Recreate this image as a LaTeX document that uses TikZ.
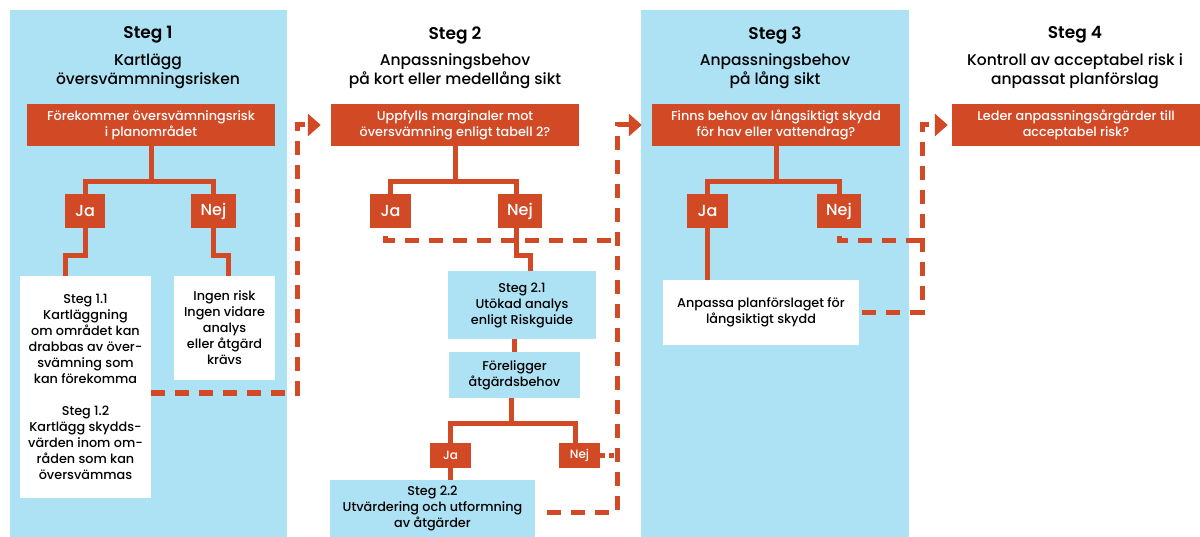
\documentclass[tikz,border=0pt]{standalone}
\usepackage{fontspec}
\IfFontExistsTF{Poppins Medium}
  {\setmainfont{Poppins Medium}[BoldFont={Poppins SemiBold}]}
  {\setmainfont{Poppins}}
\usetikzlibrary{arrows.meta}
\definecolor{sky}{RGB}{173, 226, 244}
\definecolor{rust}{RGB}{210, 73, 37}

\begin{document}
\begin{tikzpicture}[x=1pt, y=-1pt,
    question/.style={fill=rust, text=white, align=center, minimum width=248pt,
      minimum height=42pt, inner sep=0pt, font=\fontsize{12.8}{16}\selectfont},
    answer/.style={fill=rust, text=white, minimum height=34pt, inner sep=0pt,
      font=\fontsize{16}{18}\selectfont},
    small answer/.style={answer, minimum height=25pt, minimum width=41pt,
      font=\fontsize{12}{14}\selectfont},
    whitebox/.style={fill=white, align=center, inner sep=0pt,
      font=\fontsize{12.8}{16}\selectfont},
    bluebox/.style={whitebox, fill=sky},
    tree/.style={rust, line width=5pt},
    dashline/.style={rust, line width=5pt, dash pattern=on 14pt off 10pt},
    goto/.style={dashline, -{Triangle[width=22pt, length=13pt]}, shorten >=10pt},
    title/.style={font=\fontsize{17}{20}\selectfont\bfseries},
    subtitle/.style={align=center, font=\fontsize{15.5}{19}\selectfont}]
  \useasboundingbox (0, 0) rectangle (1200, 537);

  % backgrounds of steg 1 and steg 3
  \fill[sky] (10, 10) rectangle (287, 537);
  \fill[sky] (641, 10) rectangle (909, 537);

  \foreach \x/\n/\ta/\tb in {148/1/Kartlägg/översvämmningsrisken,
                             455/2/Anpassningsbehov/på kort eller medellång sikt,
                             775/3/Anpassningsbehov/på lång sikt,
                             1075/4/Kontroll av acceptabel risk i/anpassat planförslag} {
    \node[title] (steg\n) at (\x, 35) {Steg \n};
    \node[subtitle] (sub\n) at (\x, 71) {\ta\\\tb};
  }

  % Steg 1
  \node[question] (q1) at (151, 125) {Förekommer översvämningsrisk\\i planområdet};
  \node[answer, minimum width=40pt] (ja1) at (85, 211) {Ja};
  \node[answer, minimum width=45pt] (nej1) at (213.5, 211) {Nej};
  \node[whitebox, minimum width=131pt, minimum height=222pt] (s11) at (85.5, 387)
    {Steg 1.1\\Kartläggning\\om området kan\\drabbas av över-\\svämning som\\kan förekomma\\[16pt]
     Steg 1.2\\Kartlägg skydds-\\värden inom om-\\råden som kan\\översvämmas};
  \node[whitebox, minimum width=101pt, minimum height=104pt] (n1) at (224.5, 328)
    {Ingen risk\\Ingen vidare\\analys\\eller åtgärd\\krävs};

  \draw[tree] (q1.south) -- ++(0, 35) coordinate (b1);
  \draw[tree] (ja1.north) |- (b1) -| (nej1.north);
  \draw[tree] (ja1.south) -- ++(0, 27) -| ([xshift=-20pt]s11.north);
  \draw[tree] (nej1.south) -- ++(0, 27) -| ([xshift=4pt]n1.north);

  % Steg 2
  \node[question] (q2) at (455, 125) {Uppfylls marginaler mot\\översvämning enligt tabell 2?};
  \node[answer, minimum width=41pt] (ja2) at (390.5, 211) {Ja};
  \node[answer, minimum width=44pt] (nej2) at (520, 211) {Nej};
  \node[bluebox, minimum width=148pt, minimum height=68pt] (s21) at (522, 305)
    {Steg 2.1\\Utökad analys\\enligt Riskguide};
  \node[bluebox, minimum width=131pt, minimum height=46pt] (f2) at (514.5, 375)
    {Föreligger\\åtgärdsbehov};
  \node[small answer] (ja22) at (450.5, 455.5) {Ja};
  \node[small answer] (nej22) at (579.5, 455.5) {Nej};
  \node[bluebox, minimum width=205pt, minimum height=57pt] (s22) at (432.5, 508.5)
    {Steg 2.2\\Utvärdering och utformning\\av åtgärder};

  \draw[tree] (q2.south) -- ++(0, 35) coordinate (b2);
  \draw[tree] (ja2.north) |- (b2) -| ([xshift=-4pt]nej2.north);
  \draw[tree] ([xshift=-4pt]nej2.south) -- ++(0, 27) -| ([xshift=8pt]s21.north);
  \draw[tree] (s21.south -| f2.north) -- (f2.north);
  \draw[tree] ([xshift=-3pt]f2.south) -- ++(0, 25) coordinate (b22);
  \draw[tree] (ja22.north) |- (b22) -| ([xshift=-4pt]nej22.north);
  \draw[tree] (ja22.south) -- (ja22.south |- s22.north);

  % Steg 3
  \node[question] (q3) at (776, 125) {Finns behov av långsiktigt skydd\\för hav eller vattendrag?};
  \node[answer, minimum width=41pt] (ja3) at (707.5, 211) {Ja};
  \node[answer, minimum width=44pt] (nej3) at (839, 211) {Nej};
  \node[whitebox, minimum width=196pt, minimum height=65pt] (a3) at (761, 312.5)
    {Anpassa planförslaget för\\långsiktigt skydd};

  \draw[tree] (q3.south) -- ++(0, 35) coordinate (b3);
  \draw[tree] (ja3.north) |- (b3) -| (nej3.north);
  \draw[tree] (ja3.south) -- (ja3.south |- a3.north);

  % Steg 4
  \node[question] (q4) at (1076, 125) {Leder anpassningsårgärder till\\acceptabel risk?};

  % dashed connections between the steps
  \coordinate (d1) at (297, 393);
  \coordinate (d2) at (617, 512);
  \coordinate (c2) at (617, 241);
  \coordinate (d3) at (922, 312.5);
  \coordinate (c3) at (922, 241);

  \draw[goto] ([yshift=-6pt]s11.east) -- (d1) |- (q2.west);
  \draw[goto, shorten <=12pt] (s22.east |- d2) -- (d2) |- (q3.west);
  \draw[dashline] ([xshift=-5pt, yshift=-8pt]ja2.south) |- (c2);
  \draw[dashline, dash pattern=on 5pt off 4pt] (nej22.east) -- (nej22.east -| d2);
  \draw[goto, shorten >=4pt, shorten <=3pt] (a3.east) -- (d3) |- (q4.west);
  \draw[dashline] ([yshift=-8pt]nej3.south) |- (c3);
\end{tikzpicture}
\end{document}
